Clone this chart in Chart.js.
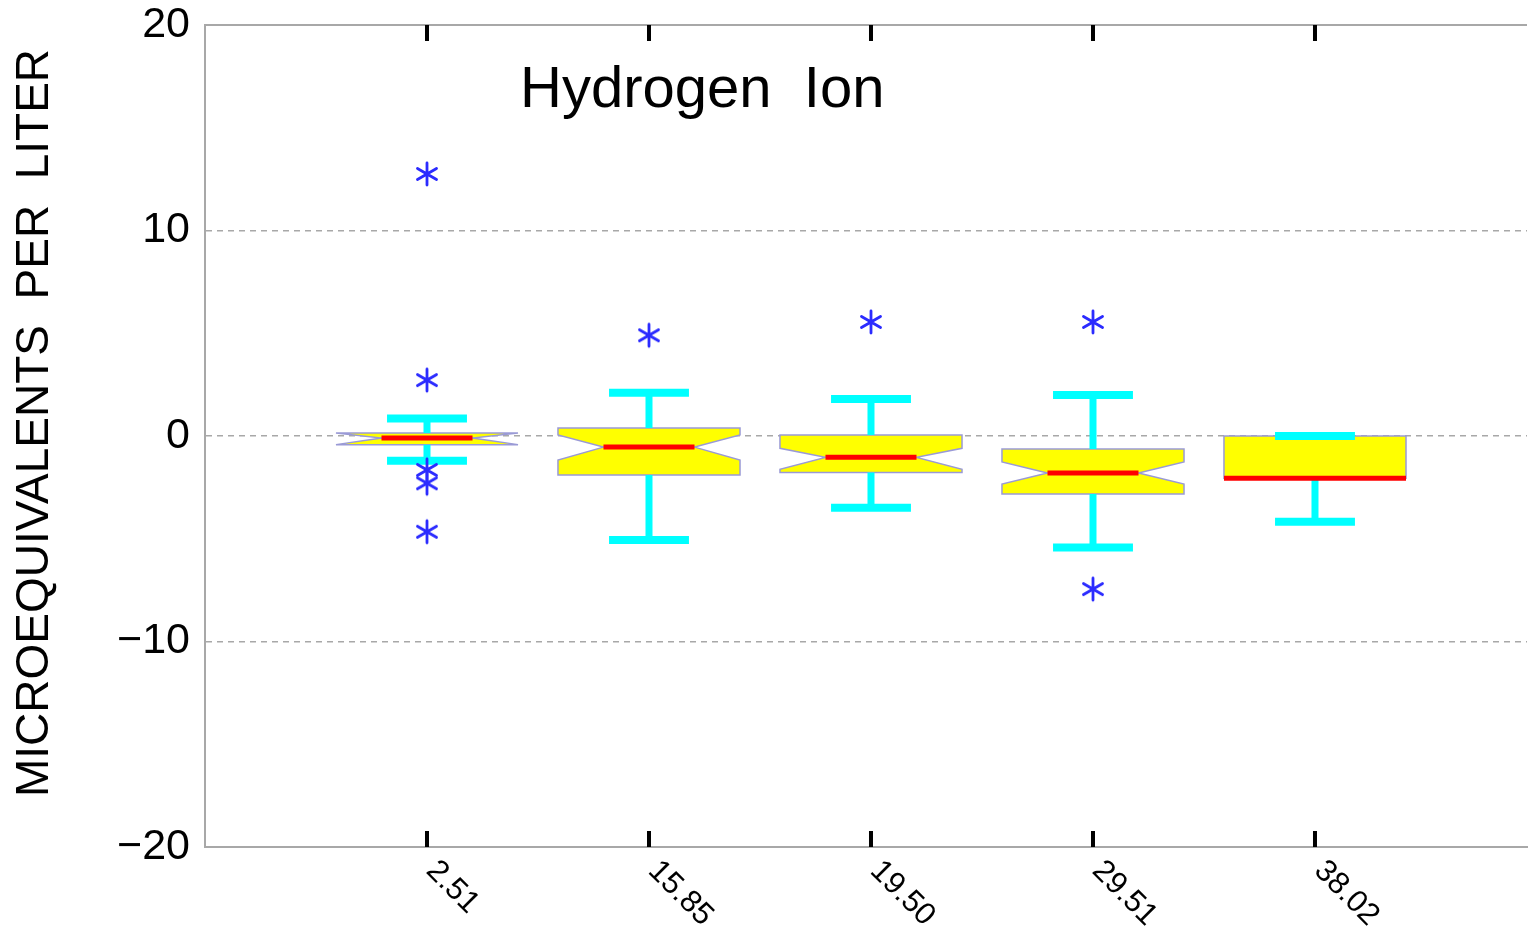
<!DOCTYPE html>
<html>
<head>
<meta charset="utf-8">
<script src="https://cdn.jsdelivr.net/npm/chart.js@4.4.1/dist/chart.umd.min.js"></script>
<style>
  body { margin: 0; background: #fff; }
  canvas { display: block; }
</style>
</head>
<body>
<canvas id="hydrogenBox" width="1532" height="940"></canvas>
<script>
  // notched box plot data (microequivalents per liter)
  const categories = ['2.51', '15.85', '19.50', '29.51', '38.02'];
  const q3 = [0.15, 0.39, 0.05, -0.63, 0.0];
  const q1 = [-0.42, -1.9, -1.78, -2.82, -2.05];
  const medians = [-0.1, -0.54, -1.04, -1.8, -2.05];
  const notchHi = [0.15, 0.05, -0.6, -1.26, null];
  const notchLo = [-0.42, -1.17, -1.62, -2.34, null];
  const upperWhisker = [0.85, 2.1, 1.8, 2.0, 0.0];
  const lowerWhisker = [-1.2, -5.06, -3.49, -5.43, -4.17];
  const outliers = [
    [12.75, 2.72, -1.65, -2.3, -4.66],
    [4.9],
    [5.55],
    [5.55, -7.45],
    []
  ];
  const yTicks = [-20, -10, 0, 10, 20];

  const BOX_HALF = 0.41;
  const NOTCH_HALF = 0.205;
  const CAP_HALF = 0.18;
  const FONT = '"Liberation Sans", Arial, Helvetica, sans-serif';
  const FRAME = '#a8a8a8';

  function makeStar(r, color) {
    const c = document.createElement('canvas');
    c.width = c.height = 2 * r + 6;
    const g = c.getContext('2d');
    const m = r + 3;
    g.strokeStyle = color;
    g.lineWidth = 2.8;
    g.lineCap = 'round';
    g.beginPath();
    [90, 30, -30].forEach(a => {
      const dx = r * Math.cos(a * Math.PI / 180), dy = r * Math.sin(a * Math.PI / 180);
      g.moveTo(m - dx, m - dy);
      g.lineTo(m + dx, m + dy);
    });
    g.stroke();
    return c;
  }

  // whisker stems and caps, with null gaps between segments
  const stems = [];
  const caps = [];
  const medianLines = [];
  categories.forEach((c, i) => {
    const xc = i + 1;
    stems.push({x: xc, y: q3[i]}, {x: xc, y: upperWhisker[i]}, {x: xc, y: null});
    stems.push({x: xc, y: q1[i]}, {x: xc, y: lowerWhisker[i]}, {x: xc, y: null});
    caps.push({x: xc - CAP_HALF, y: upperWhisker[i]}, {x: xc + CAP_HALF, y: upperWhisker[i]}, {x: xc, y: null});
    caps.push({x: xc - CAP_HALF, y: lowerWhisker[i]}, {x: xc + CAP_HALF, y: lowerWhisker[i]}, {x: xc, y: null});
    const mh = notchHi[i] === null ? BOX_HALF : NOTCH_HALF;
    medianLines.push({x: xc - mh, y: medians[i]}, {x: xc + mh, y: medians[i]}, {x: xc, y: null});
  });
  const outlierPoints = outliers.flatMap((vals, i) => vals.map(v => ({x: i + 1, y: v})));

  const boxPlugin = {
    id: 'notchedBoxes',
    beforeDatasetsDraw(chart) {
      const {ctx, scales: {x, y}} = chart;
      ctx.save();
      categories.forEach((c, i) => {
        const xc = i + 1;
        const L = x.getPixelForValue(xc - BOX_HALF), R = x.getPixelForValue(xc + BOX_HALF);
        const iL = x.getPixelForValue(xc - NOTCH_HALF), iR = x.getPixelForValue(xc + NOTCH_HALF);
        const hasNotch = notchHi[i] !== null;
        ctx.beginPath();
        ctx.moveTo(L, y.getPixelForValue(q3[i]));
        if (hasNotch) {
          ctx.lineTo(L, y.getPixelForValue(notchHi[i]));
          ctx.lineTo(iL, y.getPixelForValue(medians[i]));
          ctx.lineTo(L, y.getPixelForValue(notchLo[i]));
        }
        ctx.lineTo(L, y.getPixelForValue(q1[i]));
        ctx.lineTo(R, y.getPixelForValue(q1[i]));
        if (hasNotch) {
          ctx.lineTo(R, y.getPixelForValue(notchLo[i]));
          ctx.lineTo(iR, y.getPixelForValue(medians[i]));
          ctx.lineTo(R, y.getPixelForValue(notchHi[i]));
        }
        ctx.lineTo(R, y.getPixelForValue(q3[i]));
        ctx.closePath();
        ctx.fillStyle = '#ffff00';
        ctx.fill();
        ctx.strokeStyle = '#9a9ad6';
        ctx.lineWidth = 1.5;
        ctx.stroke();
      });
      ctx.restore();
    },
    afterDraw(chart) {
      const {ctx, chartArea: area, scales: {x, y}} = chart;
      ctx.save();
      // top frame line
      ctx.strokeStyle = FRAME;
      ctx.lineWidth = 2;
      ctx.beginPath();
      ctx.moveTo(area.left, area.top);
      ctx.lineTo(area.right, area.top);
      ctx.stroke();
      // inward tick marks, top and bottom
      ctx.strokeStyle = '#000';
      ctx.lineWidth = 4;
      categories.forEach((c, i) => {
        const px = x.getPixelForValue(i + 1);
        ctx.beginPath();
        ctx.moveTo(px, area.bottom);
        ctx.lineTo(px, area.bottom - 16);
        ctx.moveTo(px, area.top);
        ctx.lineTo(px, area.top + 16);
        ctx.stroke();
      });
      // rotated category labels
      ctx.fillStyle = '#000';
      ctx.font = '31px ' + FONT;
      ctx.textAlign = 'left';
      ctx.textBaseline = 'middle';
      categories.forEach((c, i) => {
        const px = x.getPixelForValue(i + 1);
        ctx.save();
        ctx.translate(px + 4, area.bottom + 19);
        ctx.rotate(Math.PI / 4);
        ctx.fillText(c, 0, 0);
        ctx.restore();
      });
      // title inside the axes
      ctx.font = '58px ' + FONT;
      ctx.textAlign = 'center';
      ctx.textBaseline = 'alphabetic';
      ctx.fillText('Hydrogen  Ion', x.getPixelForValue(2.24), y.getPixelForValue(16.0));
      // y axis title
      ctx.font = '46px ' + FONT;
      ctx.textBaseline = 'middle';
      ctx.translate(35, (area.top + area.bottom) / 2 - 13);
      ctx.rotate(-Math.PI / 2);
      ctx.fillText('MICROEQUIVALENTS  PER  LITER', 0, 0);
      ctx.restore();
    }
  };

  const ctx = document.getElementById('hydrogenBox').getContext('2d');
  const hydrogenChart = new Chart(ctx, {
    type: 'scatter',
    data: {
      datasets: [
        {
          label: 'Outliers',
          data: outlierPoints,
          pointStyle: makeStar(11, '#2b2bff'),
          showLine: false
        },
        {
          label: 'Median',
          data: medianLines,
          showLine: true,
          spanGaps: false,
          borderColor: '#ff0000',
          borderWidth: 5,
          pointRadius: 0
        },
        {
          label: 'Caps',
          data: caps,
          showLine: true,
          spanGaps: false,
          borderColor: '#00ffff',
          borderWidth: 8,
          borderCapStyle: 'butt',
          pointRadius: 0
        },
        {
          label: 'Whiskers',
          data: stems,
          showLine: true,
          spanGaps: false,
          borderColor: '#00ffff',
          borderWidth: 7,
          borderCapStyle: 'butt',
          pointRadius: 0
        }
      ]
    },
    options: {
      responsive: false,
      animation: false,
      devicePixelRatio: 1,
      layout: {
        padding: { top: 25, right: 0, left: 0, bottom: 0 }
      },
      plugins: {
        legend: { display: false },
        tooltip: { enabled: false }
      },
      scales: {
        x: {
          type: 'linear',
          min: 0,
          max: 5.955,
          ticks: { display: false },
          grid: { display: false },
          border: { display: true, color: FRAME, width: 2 },
          afterFit: s => { s.height = 93; s.paddingLeft = 0; s.paddingRight = 0; }
        },
        y: {
          min: -20,
          max: 20,
          z: 1,
          afterBuildTicks: s => { s.ticks = yTicks.map(v => ({value: v})); },
          ticks: {
            color: '#000',
            padding: 15,
            font: { size: 43, family: FONT },
            callback: v => v < 0 ? '\u2212' + Math.abs(v) : String(v)
          },
          grid: {
            drawTicks: false,
            lineWidth: 1.5,
            color: c => (c.tick && Math.abs(c.tick.value) === 20) ? 'rgba(0,0,0,0)' : '#a8a8a8'
          },
          border: { display: true, color: FRAME, width: 2, dash: [6, 5] },
          afterFit: s => { s.width = 205; s.paddingTop = 0; s.paddingBottom = 0; }
        }
      }
    },
    plugins: [boxPlugin]
  });
</script>
</body>
</html>
